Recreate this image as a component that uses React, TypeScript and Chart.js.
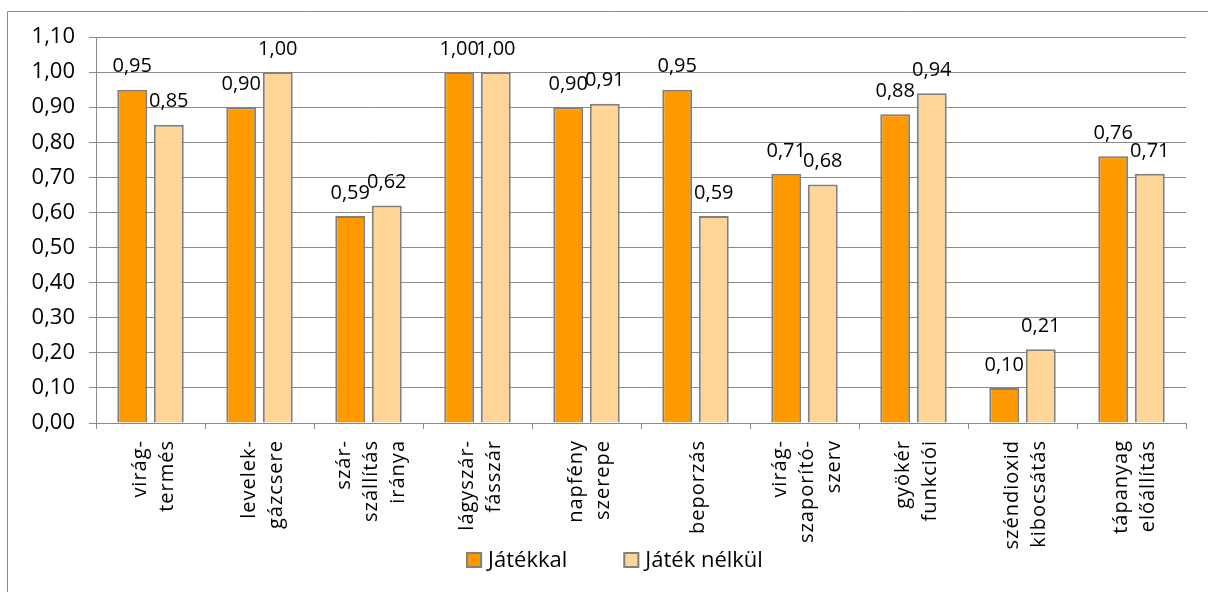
import React, { useEffect, useRef } from "react";
import { Chart, registerables } from "chart.js";

Chart.register(...registerables);

const categoryLines: string[][] = [
  ["virág-", "termés"],
  ["levelek-", "gázcsere"],
  ["szár-", "szállítás", "iránya"],
  ["lágyszár-", "fásszár"],
  ["napfény", "szerepe"],
  ["beporzás"],
  ["virág-", "szaporító-", "szerv"],
  ["gyökér", "funkciói"],
  ["széndioxid", "kibocsátás"],
  ["tápanyag", "előállítás"],
];
const categories = categoryLines.map((l) => l.join(" "));

const seriesNames = ["Játékkal", "Játék nélkül"];
const jatekkal = [0.95, 0.9, 0.59, 1.0, 0.9, 0.95, 0.71, 0.88, 0.1, 0.76];
const jatekNelkul = [0.85, 1.0, 0.62, 1.0, 0.91, 0.59, 0.68, 0.94, 0.21, 0.71];

const yMin = 0;
const yMax = 1.1;
const yStep = 0.1;

const FONT = "'Open Sans', 'Noto Sans', sans-serif";
const GRID = "#8a8a8a";
const BORDER = "#808080";
const TEXT = "#000";
const colors = ["#FF9900", "#FFD598"];

const fmt = (v: number) => (Math.round(v * 100) / 100).toFixed(2).replace(".", ",");

const decorPlugin = {
  id: "decor",
  beforeDraw(chart: any) {
    const ctx = chart.ctx;
    ctx.save();
    ctx.strokeStyle = GRID;
    ctx.lineWidth = 1;
    ctx.beginPath();
    ctx.moveTo(7.5, chart.height + 5);
    ctx.lineTo(7.5, 11.5);
    ctx.lineTo(chart.width + 5, 11.5);
    ctx.stroke();
    ctx.restore();
  },
  afterDatasetsDraw(chart: any) {
    const ctx = chart.ctx;
    ctx.save();
    // value labels
    ctx.font = `20px ${FONT}`;
    ctx.fillStyle = TEXT;
    ctx.textAlign = "center";
    ctx.textBaseline = "middle";
    chart.data.datasets.forEach((ds: any, di: number) => {
      const meta = chart.getDatasetMeta(di);
      meta.data.forEach((el: any, i: number) => {
        ctx.fillText(fmt(ds.data[i]), el.x, el.y - 23);
      });
    });
    // category labels (rotated)
    const xs = chart.scales.x;
    const bottom = chart.chartArea.bottom;
    ctx.font = `20px ${FONT}`;
    (ctx as any).letterSpacing = "1px";
    ctx.textAlign = "right";
    ctx.textBaseline = "middle";
    ctx.fillStyle = TEXT;
    categoryLines.forEach((lines, i) => {
      const cx = xs.getPixelForValue(i) + 3;
      const n = lines.length;
      lines.forEach((line, k) => {
        const off = (k - (n - 1) / 2) * 27;
        ctx.save();
        ctx.translate(cx + off, bottom + 17);
        ctx.rotate(-Math.PI / 2);
        ctx.fillText(line, 0, 0);
        ctx.restore();
      });
    });
    (ctx as any).letterSpacing = "0px";
    // legend
    ctx.font = `22px ${FONT}`;
    ctx.textAlign = "left";
    ctx.textBaseline = "middle";
    const box = 16;
    const gapText = 6;
    const gapItem = 56;
    const widths = chart.data.datasets.map((ds: any) => box + gapText + ctx.measureText(ds.label).width);
    const total = widths.reduce((a: number, b: number) => a + b, 0) + gapItem * (widths.length - 1);
    let x = 614.5 - total / 2;
    const cy = 560;
    chart.data.datasets.forEach((ds: any, di: number) => {
      ctx.fillStyle = ds.backgroundColor;
      ctx.fillRect(x, cy - box / 2, box, box);
      ctx.strokeStyle = BORDER;
      ctx.lineWidth = 2;
      ctx.strokeRect(x + 1, cy - box / 2 + 1, box - 2, box - 2);
      ctx.fillStyle = TEXT;
      ctx.fillText(ds.label, x + box + gapText, cy + 1);
      x += widths[di] + gapItem;
    });
    ctx.restore();
  },
};

export default function App() {
  const ref = useRef<HTMLCanvasElement | null>(null);
  useEffect(() => {
    document.body.style.margin = "0";
    document.body.style.overflow = "hidden";
    const canvas = ref.current!;
    const chart = new Chart(canvas, {
      type: "bar",
      data: {
        labels: categories,
        datasets: [
          {
            label: seriesNames[0],
            data: jatekkal,
            backgroundColor: colors[0],
            borderColor: BORDER,
            borderWidth: 2,
            categoryPercentage: 0.67,
            barPercentage: 0.82,
          },
          {
            label: seriesNames[1],
            data: jatekNelkul,
            backgroundColor: colors[1],
            borderColor: BORDER,
            borderWidth: 2,
            categoryPercentage: 0.67,
            barPercentage: 0.82,
          },
        ],
      },
      options: {
        responsive: false,
        animation: false,
        devicePixelRatio: 1,
        layout: { padding: { left: 0, top: 37, right: 22, bottom: 0 } },
        plugins: {
          legend: { display: false },
          tooltip: { enabled: false },
        },
        scales: {
          x: {
            grid: {
              display: true,
              drawOnChartArea: false,
              drawTicks: true,
              tickLength: 6,
              color: GRID,
              offset: true,
            },
            border: { display: true, color: GRID, width: 1 },
            ticks: { display: false },
            afterFit: (scale: any) => {
              scale.height = 169;
            },
          },
          y: {
            min: yMin,
            max: yMax,
            grid: { color: GRID, tickLength: 7, lineWidth: 1 },
            border: { display: true, color: GRID, width: 1 },
            ticks: {
              stepSize: yStep,
              padding: 14,
              color: TEXT,
              font: { family: FONT, size: 22 },
              callback: (v: any) => fmt(Number(v)),
            },
            afterFit: (scale: any) => {
              scale.width = 96;
            },
          },
        },
      },
      plugins: [decorPlugin],
    });
    return () => chart.destroy();
  }, []);
  return (
    <div style={{ width: 1208, height: 592, background: "#fff" }}>
      <canvas ref={ref} width={1208} height={592} style={{ display: "block", width: 1208, height: 592 }} />
    </div>
  );
}
